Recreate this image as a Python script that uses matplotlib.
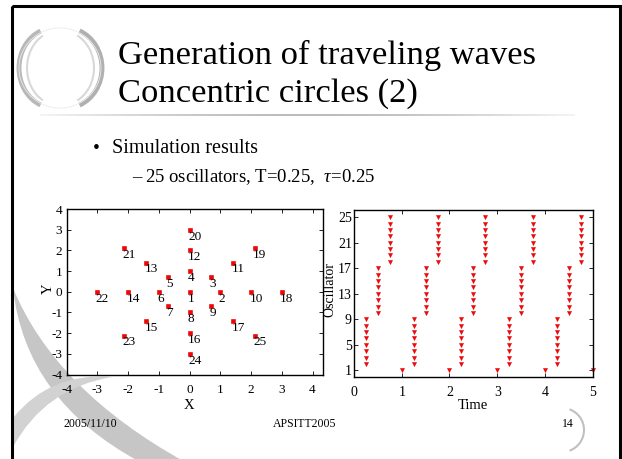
import numpy as np
import matplotlib.pyplot as plt
from matplotlib.patches import Arc, Rectangle, PathPatch
from matplotlib.path import Path
from matplotlib.collections import LineCollection

plt.rcParams['font.family'] = ['Liberation Serif', 'DejaVu Serif']
plt.rcParams['mathtext.fontset'] = 'custom'
plt.rcParams['mathtext.rm'] = 'Liberation Serif'
plt.rcParams['mathtext.it'] = 'Liberation Serif:italic'
plt.rcParams['axes.unicode_minus'] = False

# oscillator layout: centre + 3 concentric rings
osc_id = list(range(1, 26))
osc_x = [0, 1, 0.71, 0, -0.71, -1, -0.71, 0, 0.71,
         2, 1.41, 0, -1.41, -2, -1.41, 0, 1.41,
         3, 2.12, 0, -2.12, -3, -2.12, 0, 2.12]
osc_y = [0, 0, 0.71, 1, 0.71, 0, -0.71, -1, -0.71,
         0, 1.41, 2, 1.41, 0, -1.41, -2, -1.41,
         0, 2.12, 3, 2.12, 0, -2.12, -3, -2.12]

# firing times of each group of oscillators
center_osc = [1]
ring1_osc = [2, 3, 4, 5, 6, 7, 8, 9]
ring2_osc = [10, 11, 12, 13, 14, 15, 16, 17]
ring3_osc = [18, 19, 20, 21, 22, 23, 24, 25]
center_times = [1, 2, 3, 4, 5]
ring1_times = [0.25, 1.25, 2.25, 3.25, 4.25]
ring2_times = [0.5, 1.5, 2.5, 3.5, 4.5]
ring3_times = [0.75, 1.75, 2.75, 3.75, 4.75]

xy_ticks = [-4, -3, -2, -1, 0, 1, 2, 3, 4]
time_ticks = [0, 1, 2, 3, 4, 5]
osc_ticks = [1, 5, 9, 13, 17, 21, 25]

W, H = 622, 459
fig = plt.figure(figsize=(W / 100, H / 100), dpi=100)
fig.patch.set_facecolor('white')

# slide background in pixel coords
bg = fig.add_axes([0, 0, 1, 1])
bg.set_xlim(0, W)
bg.set_ylim(H, 0)
bg.axis('off')

# swoosh in the lower left corner
band_a = Path([(13, 288), (25, 400), (140, 462), (185, 462), (55, 390), (13, 288)],
              [Path.MOVETO, Path.CURVE3, Path.CURVE3, Path.LINETO, Path.CURVE3, Path.CURVE3])
bg.add_patch(PathPatch(band_a, facecolor='#c6c6c6', edgecolor='none'))
band_b = Path([(13, 418), (50, 372), (112, 377), (45, 388), (13, 447)],
              [Path.MOVETO, Path.CURVE3, Path.CURVE3, Path.CURVE3, Path.CURVE3])
bg.add_patch(PathPatch(band_b, facecolor='#d2d2d2', edgecolor='none'))

# ring ornament next to the title
bg.add_patch(Arc((54, 68), 70, 80, theta1=110, theta2=250, color='#b8b8b8', lw=3.5))
bg.add_patch(Arc((58, 68), 62, 74, theta1=115, theta2=245, color='#d8d8d8', lw=1.5))
bg.add_patch(Arc((66, 68), 72, 80, theta1=-70, theta2=70, color='#b0b0b0', lw=3.5))
bg.add_patch(Arc((62, 68), 64, 74, theta1=-65, theta2=65, color='#d8d8d8', lw=1.5))
bg.add_patch(Arc((60, 68), 82, 80, theta1=0, theta2=360, color='#ebebeb', lw=0.6))

# fading rule under the title
xs = np.linspace(40, 575, 60)
segs = [[(xs[i], 115), (xs[i + 1], 115)] for i in range(len(xs) - 1)]
shade = np.sin(np.linspace(0, np.pi, len(segs)))
cols = [(0.65, 0.65, 0.65, 0.15 + 0.75 * s) for s in shade]
bg.add_collection(LineCollection(segs, colors=cols, linewidths=1.2))

# small arc around the page number
bg.add_patch(Arc((562, 430), 44, 44, theta1=-70, theta2=70, color='#c0c0c0', lw=1.5))

# slide frame
bg.add_patch(Rectangle((12, 6), 607.5, 470, fill=False, edgecolor='black', lw=2.2))

# slide text
bg.text(118, 64, 'Generation of traveling waves', fontsize=24.8, va='baseline')
bg.text(118, 102, 'Concentric circles (2)', fontsize=24.8, va='baseline')
bg.text(93, 153, '\u2022', fontsize=14, va='baseline')
bg.text(112, 153, 'Simulation results', fontsize=14.5, va='baseline')
bg.text(132, 182, '\u2013', fontsize=13.5, va='baseline')
bg.text(145, 182, '25 oscillators, T=0.25,  $\\tau$=0.25', fontsize=13.5, va='baseline')
bg.text(63, 424, '2005/11/10', fontsize=8.5, va='center')
bg.text(305, 424, 'APSITT2005', fontsize=8.5, va='center', ha='center')
bg.text(568, 424, '14', fontsize=8.5, va='center', ha='center')

# left: oscillator positions
ax1 = fig.add_axes([66.5 / W, 1 - 374.5 / H, (322.7 - 66.5) / W, (374.5 - 209) / H])
ax1.patch.set_alpha(0)
ax1.plot(osc_x, osc_y, 's', ms=2.3, mfc='red', mec='#d00000', mew=0.4, ls='none')
for i, x, y in zip(osc_id, osc_x, osc_y):
    ax1.text(x - 0.05, y - 0.33, str(i), fontsize=9.5, ha='left', va='center')
ax1.set_xlim(-4, 4.33)
ax1.set_ylim(-4, 4)
ax1.set_xticks(xy_ticks)
ax1.set_yticks(xy_ticks)
ax1.tick_params(axis='both', direction='in', top=True, right=True, length=3, width=0.6, labelsize=9.5)
ax1.tick_params(axis='x', pad=6.5)
ax1.tick_params(axis='y', pad=3)
ax1.set_xlabel('X', fontsize=10.5, va='center')
ax1.xaxis.set_label_coords(0.48, -0.185)
ax1.set_ylabel('Y', fontsize=10.5, va='center')
ax1.yaxis.set_label_coords(-0.07, 0.52)
for s in ax1.spines.values():
    s.set_linewidth(1.0)

# right: firing raster
ax2 = fig.add_axes([354 / W, 1 - 376.7 / H, (592.7 - 354) / W, (376.7 - 209.5) / H])
ax2.patch.set_alpha(0)
for osc, times in [(center_osc, center_times), (ring1_osc, ring1_times),
                   (ring2_osc, ring2_times), (ring3_osc, ring3_times)]:
    tt = np.repeat(times, len(osc))
    oo = np.tile(osc, len(times))
    ax2.plot(tt, oo, 'v', ms=3, color='red', mec='#d00000', mew=0.3, ls='none', clip_on=False)
ax2.set_xlim(0, 5)
ax2.set_ylim(0, 26.2)
ax2.set_xticks(time_ticks)
ax2.set_yticks(osc_ticks)
ax2.tick_params(axis='both', direction='in', top=True, right=True, length=3, width=0.6, labelsize=10)
ax2.tick_params(axis='x', pad=7)
ax2.tick_params(axis='y', pad=1.5)
ax2.set_xlabel('Time', fontsize=10.5, va='center')
ax2.xaxis.set_label_coords(0.5, -0.17)
ax2.set_ylabel('Oscillator', fontsize=10, va='center')
ax2.yaxis.set_label_coords(-0.1, 0.52)
for s in ax2.spines.values():
    s.set_linewidth(1.0)

fig.savefig('out.png', dpi=100)
